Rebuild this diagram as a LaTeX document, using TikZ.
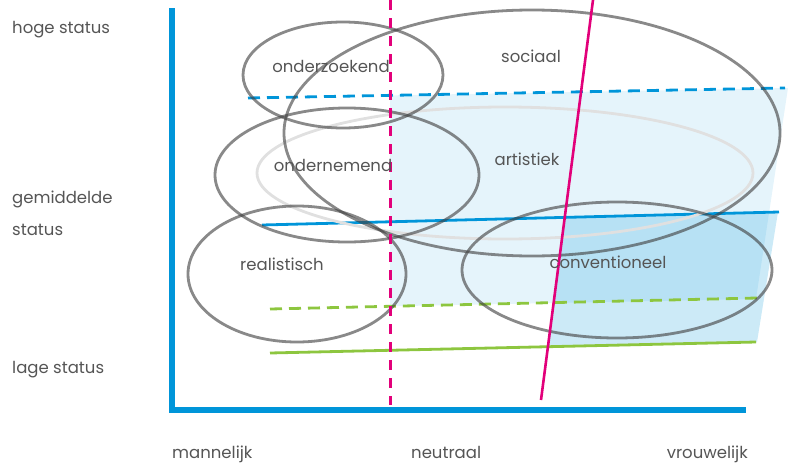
\documentclass[tikz,border=0pt]{standalone}
\usepackage{fontspec}
\setmainfont{Poppins}
\usetikzlibrary{shapes.geometric}

\definecolor{axblue}{HTML}{0095D9}
\definecolor{mag}{HTML}{E2007A}
\definecolor{grn}{HTML}{8DC63F}
\definecolor{txt}{HTML}{555555}

\begin{document}
\begin{tikzpicture}[x=1pt,y=-1pt,
  lbl/.style={text=txt,font=\fontsize{16.5}{19}\selectfont,inner sep=0pt,anchor=base},
  field/.style={ellipse,draw=black!75,draw opacity=.62,line width=2.8pt,inner sep=0pt},
  axis/.style={draw=axblue,line width=5.5pt},
  dsh/.style={line width=2.8pt,dash pattern=on 12pt off 7pt}]

\useasboundingbox (0,0) rectangle (795,466);

% shaded bands
\fill[axblue,opacity=.1] (390,95.4) -- (788,88) -- (756,299) -- (390,306.3) -- cycle;
\fill[axblue,opacity=.2] (565,217.4) -- (778,212) -- (757,342) -- (548,346.7) -- cycle;

% axes
\coordinate (ytop) at (172,8);
\coordinate (xend) at (746,410);
\draw[axis] (ytop) |- (xend);

% status and gender lines
\coordinate (hs1) at (248,98);  \coordinate (hs2) at (785,88);
\coordinate (ms1) at (262,225); \coordinate (ms2) at (779,212);
\coordinate (ls1) at (270,309); \coordinate (ls2) at (757,298);
\coordinate (gs1) at (270,353); \coordinate (gs2) at (756,342);
\coordinate (nt1) at (390.5,0); \coordinate (nt2) at (390.5,405);
\coordinate (vr1) at (593,0);   \coordinate (vr2) at (541,400);

\draw[dsh,axblue] (hs1) -- (hs2);
\draw[line width=2.8pt,axblue] (ms1) -- (ms2);
\draw[dsh,grn] (ls1) -- (ls2);
\draw[line width=2.8pt,grn] (gs1) -- (gs2);

% interest fields
\node[field,draw=black!12,draw opacity=1,minimum width=496,minimum height=132] (art) at (505,173) {};
\node[field,minimum width=200,minimum height=106] (ozk) at (343,75) {};
\node[field,minimum width=264,minimum height=134] (ond) at (347,175) {};
\node[field,minimum width=496,minimum height=246] (soc) at (532,133) {};
\node[field,minimum width=218,minimum height=136] (rea) at (297,274) {};
\node[field,minimum width=310,minimum height=136] (con) at (617,270) {};

\draw[line width=3.2pt,mag,dash pattern=on 10pt off 8pt] (nt1) -- (nt2);
\draw[line width=2.6pt,mag] (vr1) -- (vr2);

\node[lbl] (lozk) at (331,72) {onderzoekend};
\node[lbl] (lond) at (333,171) {ondernemend};
\node[lbl] (lsoc) at (531,62) {sociaal};
\node[lbl] (lart) at (527,165) {artistiek};
\node[lbl] (lrea) at (282,270) {realistisch};
\node[lbl] (lcon) at (608,268) {conventioneel};

% axis texts
\node[lbl,anchor=base west] (hoog) at (12,33) {hoge status};
\node[lbl,anchor=base west] (mid) at (12,203) {gemiddelde};
\node[lbl,anchor=base west] (mid2) at (12,235) {status};
\node[lbl,anchor=base west] (laag) at (12,373) {lage status};
\node[lbl,anchor=base west] (man) at (172,458) {mannelijk};
\node[lbl,anchor=base west] (neu) at (411,458) {neutraal};
\node[lbl,anchor=base east] (vrw) at (748,458) {vrouwelijk};

\end{tikzpicture}
\end{document}
